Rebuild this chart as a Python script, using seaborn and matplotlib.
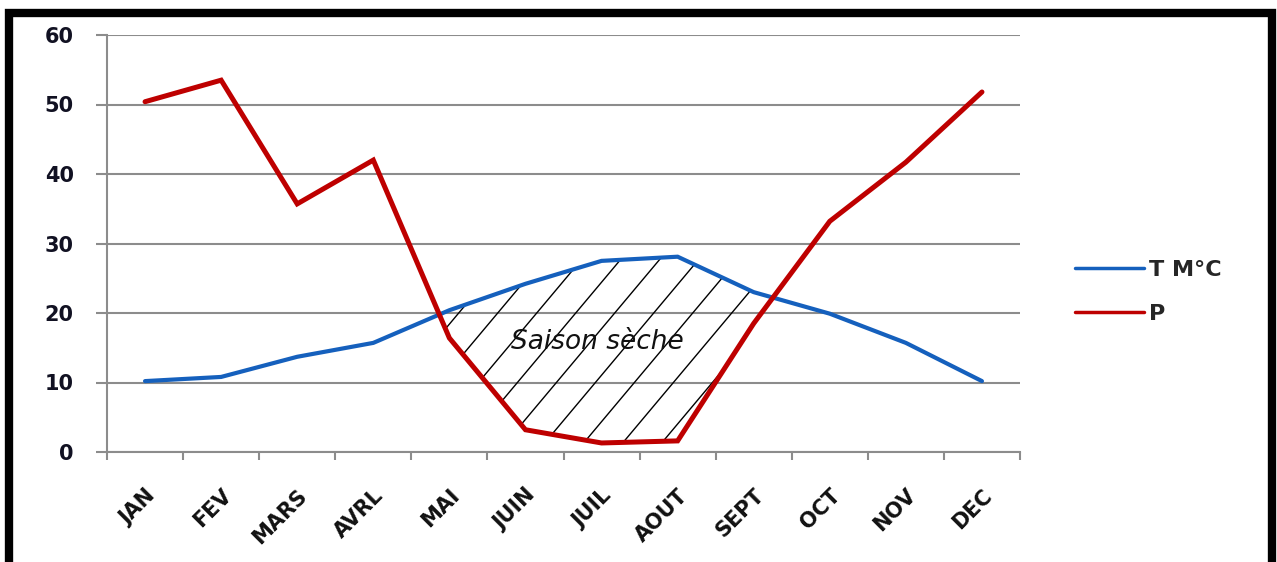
import numpy as np
import pandas as pd
import matplotlib
matplotlib.use("Agg")
import matplotlib.pyplot as plt
from matplotlib.patches import Rectangle
import seaborn as sns

# Monthly climate data
mois = ["JAN", "FEV", "MARS", "AVRL", "MAI", "JUIN", "JUIL", "AOUT",
        "SEPT", "OCT", "NOV", "DEC"]
temperature = [10.2, 10.8, 13.7, 15.7, 20.4, 24.2, 27.5, 28.1, 23.0, 19.9, 15.7, 10.2]
precipitation = [50.4, 53.5, 35.7, 42.0, 16.4, 3.2, 1.3, 1.6, 18.5, 33.2, 41.7, 51.8]
serie_t = "T M°C"
serie_p = "P"
y_ticks = [0, 10, 20, 30, 40, 50, 60]
annotation = "Saison sèche"

BLUE = "#1560BD"
RED = "#BE0000"
GRID = "#8c8c8c"

sns.set_theme(style="white")
plt.rcParams["font.family"] = ["DejaVu Sans"]

df = pd.DataFrame({
    "mois": mois * 2,
    "valeur": temperature + precipitation,
    "serie": [serie_t] * len(mois) + [serie_p] * len(mois),
})

W, H, DPI = 1277, 562, 100
fig = plt.figure(figsize=(W / DPI, H / DPI), dpi=DPI)
left, right, bottom, top = 107 / W, 1020 / W, 1 - 452 / H, 1 - 35 / H
ax = fig.add_axes([left, bottom, right - left, top - bottom])

sns.lineplot(data=df, x="mois", y="valeur", hue="serie",
             palette={serie_t: BLUE, serie_p: RED}, sort=False,
             legend=False, ax=ax)
lines = ax.get_lines()
for ln, lw in zip(lines, (3.0, 3.6)):
    ln.set_linewidth(lw)
    ln.set_solid_capstyle("round")
    ln.set_solid_joinstyle("miter")
    ln.set_zorder(4)

# Dry season: area where temperature exceeds precipitation
x = np.arange(len(mois))
t = np.array(temperature)
p = np.array(precipitation)
poly = ax.fill_between(x, p, t, where=t >= p, interpolate=True,
                       facecolor="none", edgecolor="none", zorder=2)
clip = poly.get_paths()[0]

# Diagonal hatching clipped to the dry-season area
ax_w = W * (right - left)
ax_h = H * (top - bottom)
angle = np.deg2rad(50)
step = 39.0
run = ax_h / np.tan(angle)
for x0 in np.arange(-run, ax_w + step, step):
    hl, = ax.plot([x0 / ax_w, (x0 + run) / ax_w], [0, 1],
                  transform=ax.transAxes, color="black", lw=1.0, zorder=3)
    hl.set_clip_path(clip, ax.transData)

ax.text(5.95, 15.8, annotation, style="italic", ha="center", va="center",
        fontsize=19, color="#111111", zorder=5)

# Axes, ticks and grid
ax.set_xlim(-0.5, len(mois) - 0.5)
ax.set_ylim(0, 60)
ax.set_yticks(y_ticks)
ax.set_yticklabels([str(v) for v in y_ticks], fontsize=15, fontweight="bold",
                   color="#111122")
ax.set_xticks(x)
ax.set_xticklabels(mois, rotation=45, ha="right", va="top",
                   rotation_mode="anchor", fontsize=15, fontweight="bold",
                   color="#111111")
ax.set_xticks(np.arange(-0.5, len(mois), 1), minor=True)
ax.tick_params(axis="x", which="major", length=0, pad=24)
ax.tick_params(axis="x", which="minor", length=6, width=1.5, color=GRID,
               direction="out", bottom=True)
ax.tick_params(axis="y", length=8, width=1.5, color=GRID, direction="out",
               left=True, pad=16)
ax.set_xlabel("")
ax.set_ylabel("")
ax.yaxis.grid(True, color=GRID, linewidth=1.5)
ax.xaxis.grid(False)
for side in ("top", "right"):
    ax.spines[side].set_visible(False)
for side in ("left", "bottom"):
    ax.spines[side].set_color(GRID)
    ax.spines[side].set_linewidth(1.5)

leg = ax.legend(handles=[lines[0], lines[1]], labels=[serie_t, serie_p],
                loc="center left", bbox_to_anchor=(1075 / W, 1 - 292 / H),
                bbox_transform=fig.transFigure, frameon=False, borderpad=0,
                borderaxespad=0, handlelength=3.1, handletextpad=0.25,
                labelspacing=1.1, prop={"size": 16, "weight": "bold"})
for lh in leg.get_lines():
    lh.set_linewidth(2.5)

# Thick black frame around the chart
fig.patches.append(Rectangle((9 / W, -0.1), (1272 - 9) / W, 1.1 - 13 / H,
                             transform=fig.transFigure, fill=False,
                             edgecolor="black", linewidth=6, zorder=10))

fig.savefig("out.png", dpi=DPI, facecolor="white")
